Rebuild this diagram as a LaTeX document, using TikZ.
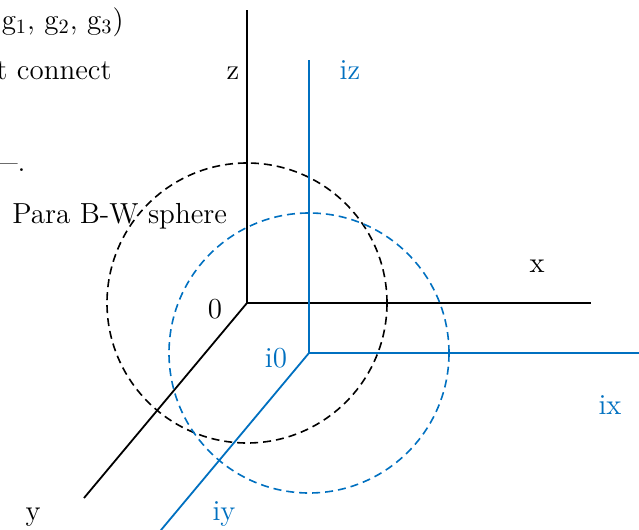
\documentclass[tikz,border=0pt]{standalone}
\usepackage{tikz}
\definecolor{iblue}{RGB}{0,112,192}

\begin{document}
\begin{tikzpicture}[x=0.5pt,y=-0.5pt,font=\fontsize{14.5}{17}\selectfont,
    axis/.style={line width=0.9pt},
    sphere/.style={line width=0.8pt,dash pattern=on 4pt off 2.5pt},
    lbl/.style={inner sep=0pt,anchor=base}]
    \useasboundingbox (0,0) rectangle (639,530);
    \clip (0,0) rectangle (639,530);
    % left side text
    \node[lbl,anchor=base east] (g) at (124,29) {(g\textsubscript{1}, g\textsubscript{2}, g\textsubscript{3})};
    \node[lbl,anchor=base east] (conn) at (112,79) {t connect};
    \node[lbl,anchor=base east] (dash) at (26,171) {---.};
    \node[lbl,anchor=base west] (bw) at (12,223) {Para B-W sphere};
    % black axes
    \coordinate (O) at (247,303); \coordinate (zend) at (247,10); \coordinate (xend) at (591,303); \coordinate (yend) at (84,498);
    \draw[axis] (O) -- (zend); \draw[axis] (O) -- (xend); \draw[axis] (O) -- (yend);
    \draw[sphere] (O) circle[radius=70pt];
    \node[lbl] (z) at (233,80) {z}; \node[lbl] (x) at (537,272) {x}; \node[lbl] (zero) at (215,318) {0}; \node[lbl] (y) at (33,520) {y};
    % blue axes
    \begin{scope}[iblue]
        \coordinate (iO) at (309,353); \coordinate (izend) at (309,60); \coordinate (ixend) at (660,353); \coordinate (iyend) at (146,548);
        \draw[axis] (iO) -- (izend); \draw[axis] (iO) -- (ixend); \draw[axis] (iO) -- (iyend);
        \draw[sphere] (iO) circle[radius=70pt];
        \node[lbl] (iz) at (350,80) {iz}; \node[lbl] (ix) at (610,415) {ix}; \node[lbl] (izero) at (276,367) {i0}; \node[lbl] (iy) at (224,520) {iy};
    \end{scope}
\end{tikzpicture}
\end{document}
